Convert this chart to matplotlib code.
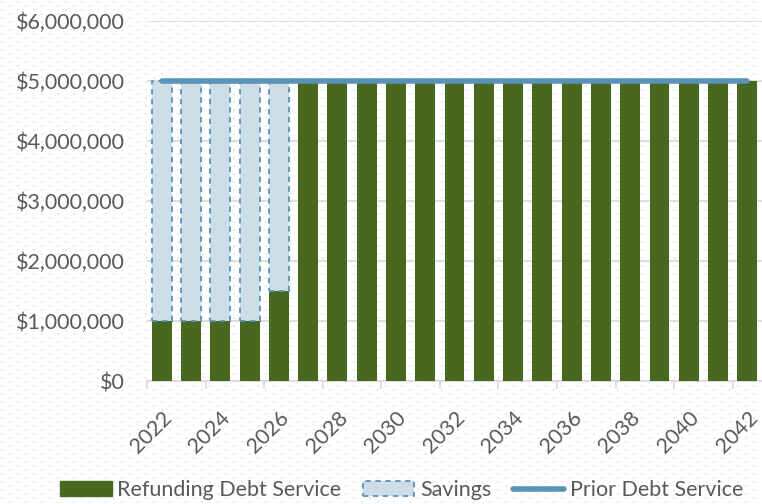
import matplotlib.pyplot as plt
import numpy as np
from matplotlib.patches import Patch
from matplotlib.lines import Line2D

years = list(range(2022, 2043))
refunding = [1000000, 1000000, 1000000, 1000000, 1500000] + [5000000] * 16
savings = [4000000, 4000000, 4000000, 4000000, 3500000] + [0] * 16
prior = [5000000] * 21

green = '#486820'
sav_fill = '#ccdde8'
sav_edge = '#5b93b8'
line_col = '#5b93b8'
txt = '#595959'

plt.rcParams['font.family'] = ['Lato', 'DejaVu Sans']

fig = plt.figure(figsize=(7.62, 5.04), dpi=100)

# faint dotted page background, one dot every 16px per row, rows 4px apart
bg = fig.add_axes([0, 0, 1, 1], zorder=-5)
bg.set_xlim(0, 762)
bg.set_ylim(504, 0)
rows = np.arange(2, 504, 4)
dx, dy = [], []
for j, r in enumerate(rows):
    cols = np.arange(2 + 8 * (j % 2), 762, 16)
    dx.extend(cols)
    dy.extend([r] * len(cols))
bg.scatter(dx, dy, s=0.8, marker='s', color='#ebebeb', linewidths=0)
bg.axis('off')

ax = fig.add_axes([0.193, 0.244, 0.807, 0.714])
ax.set_facecolor('none')

x = np.arange(len(years))
ax.bar(x, refunding, width=0.68, color=green, zorder=3)
ax.bar(x[:5], savings[:5], width=0.68, bottom=refunding[:5], color=sav_fill,
       edgecolor=sav_edge, linestyle=(0, (3, 2.5)), linewidth=1.3, zorder=3)
ax.plot(x, prior, color=line_col, linewidth=4, solid_capstyle='round', zorder=4)

ax.set_xlim(-0.5, len(years) - 0.5)
ax.set_ylim(0, 6000000)
ax.set_yticks(np.arange(0, 6000001, 1000000))
ax.set_yticklabels(['${:,.0f}'.format(v) for v in np.arange(0, 6000001, 1000000)])
ax.yaxis.grid(True, color='#d9d9d9', linewidth=1.2, zorder=0)
ax.set_axisbelow(True)

ax.set_xticks(x[::2])
ax.set_xticklabels([str(y) for y in years[::2]], rotation=45, ha='right',
                   rotation_mode='anchor')
ax.set_xticks(np.arange(-0.5, len(years), 2), minor=True)
ax.tick_params(axis='x', which='major', length=0, pad=19, labelsize=15.5, labelcolor=txt)
ax.tick_params(axis='x', which='minor', length=6, color='#d9d9d9', width=1.2)
ax.tick_params(axis='y', length=0, pad=16, labelsize=15.5, labelcolor=txt)
for s in ['top', 'right', 'left']:
    ax.spines[s].set_visible(False)
ax.spines['bottom'].set_color('#d9d9d9')
ax.spines['bottom'].set_linewidth(1.2)

handles = [
    Patch(facecolor=green, edgecolor=green),
    Patch(facecolor=sav_fill, edgecolor=sav_edge, linestyle=(0, (3, 2.5)), linewidth=1.3),
    Line2D([0], [0], color=line_col, linewidth=4, solid_capstyle='round'),
]
labels = ['Refunding Debt Service', 'Savings', 'Prior Debt Service']
fig.legend(handles, labels, loc='center', bbox_to_anchor=(0.527, 0.027), ncol=3,
           frameon=False, fontsize=15.5, labelcolor=txt, handlelength=2.4,
           handleheight=0.7, handletextpad=0.25, columnspacing=1.0)

fig.savefig('out.png', dpi=100)
